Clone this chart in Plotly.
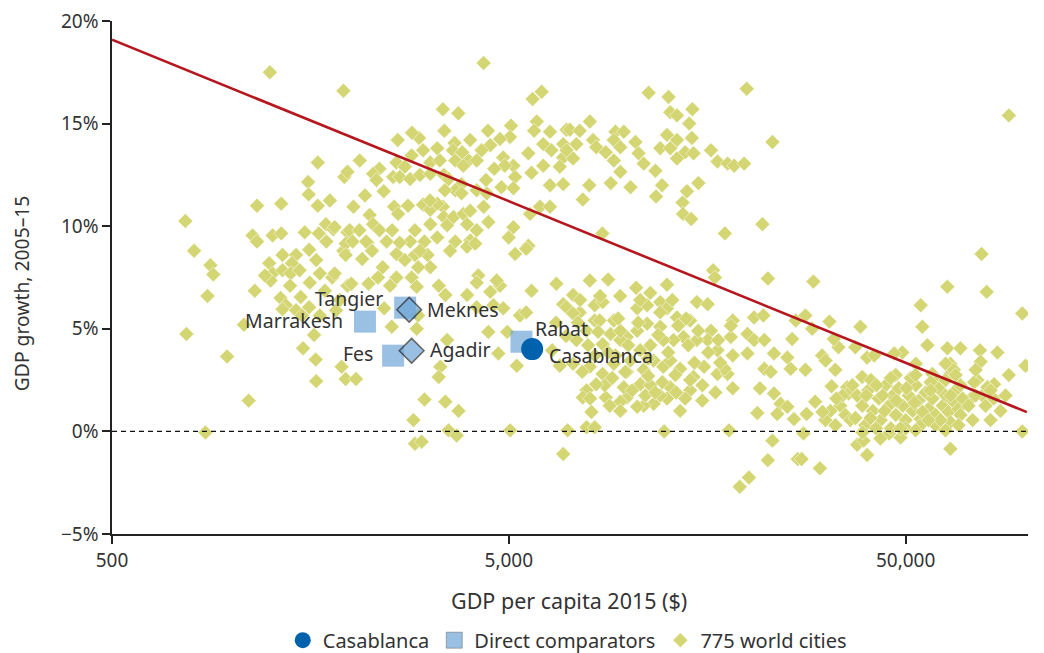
import math
import plotly.graph_objects as go

# ---------------- data ----------------
world_x = [
    1250, 1915, 1650, 1925, 1560, 1565, 1160, 1335, 765, 1130, 1160, 1270, 1335, 1530, 1730, 1660,
    1805, 1960, 1735, 805, 1570, 1915, 1635, 885, 1345, 1455, 1245, 1420, 900, 870, 770, 1075,
    975, 1105, 860, 1270, 1345, 1410, 1255, 1670, 1795, 1960, 1330, 1370, 1495, 1345, 1455, 1570,
    1835, 1615, 1515, 1630, 1895, 1635, 1940,
    4320, 6050, 5740, 3410, 3730, 3440, 5065, 5880, 5790, 6350, 6990, 2970, 3650, 5035, 4750, 4490,
    4270, 5600, 6105, 6400, 6855, 6855, 6105, 5705, 5135, 4840, 4885, 4595, 5185, 4790, 5135, 6350,
    6855, 3300, 3615, 3665, 3960, 3840, 4150, 2845, 3040, 3170, 2605, 2735, 2360, 2275, 1960, 2320,
    2555, 2655, 2820, 2985, 3170, 3430, 3525, 3800, 3665, 3800, 4150, 4400, 2420, 3040, 2570, 2630,
    2030, 2230, 2275, 1820, 1985, 2100, 2360, 2200, 2460, 1940, 2900, 3170, 3410, 3430, 3495, 3630,
    3840, 3925, 3170, 3300, 4320, 4150, 4440, 4000, 3665, 3300, 3065, 2820, 5135, 4995, 5600, 5655,
    5990, 6350,
    2020, 2185, 1940, 2135, 2605, 2735, 2900, 3120, 3170, 2955, 2405, 2340, 2605, 2845, 1820, 2005,
    2215, 2510, 2930, 3330, 3925, 4115, 4190, 4150, 3460, 3925, 4490, 4750, 4660, 5705, 6590, 5185,
    5530, 2425, 2955, 4150, 4575, 4840, 5335, 5530, 6855, 2535, 2930, 4440, 4955, 3495, 4705, 2060,
    3360, 3330, 5235, 6720, 3065, 3460, 3735, 2875, 3525, 3695, 2900, 3015, 5040, 6855, 7030,
    11255, 12635, 19880, 14505, 12760, 13265, 14245, 8000, 7125, 7545, 14465, 12520, 9285, 9745,
    13265, 7400, 8150, 9195, 10425, 12040, 12760, 13910, 14600, 16155, 6990, 8305, 8775, 9550,
    10615, 13265, 16780, 17795, 18490, 19590, 7260, 9195, 10935, 6720, 9550, 11705, 7975, 9035,
    10130, 12165, 15020, 7680, 11750, 14055, 13700, 13735, 14405, 21780, 17515, 8605, 23080,
    16360, 16535, 22480, 8000, 8900, 10465, 12520, 7260, 11360, 8230, 8620, 7545, 6990, 10530,
    11155, 12040, 12520, 14890, 15850, 20750, 21905, 13265, 14320, 18335, 9195, 8230, 7260, 25880,
    23290, 25170, 25650, 19970, 20750, 22025, 19970, 22025, 22855, 18335, 18135, 18135, 16155,
    15850, 16780, 14890, 13780, 13005, 12255, 12040, 11155, 10530, 9915, 9550, 9025, 8620, 7850,
    7400, 7260, 8000, 8620, 9195, 9915, 10935, 11585, 12255, 12760, 13510, 14600, 15520, 16780,
    17795, 17490, 18335, 15365, 14320, 12760, 12520, 11585, 10935, 10530, 9915, 9550, 8775, 9745,
    10725, 7850, 7680, 8075, 7850, 8230, 12320, 17940, 21145, 23290, 24195, 25170, 23735, 26150,
    21470, 23080, 22480, 20140, 19095, 26745, 8470, 9550, 10725, 11370, 10130, 9285, 8230, 8720,
    11370, 12040, 13135, 14320, 11040, 9550, 8980, 13510,
    77670, 63690, 80030, 98390, 29275, 54580, 55090, 56730, 63690, 68710, 76950, 85160, 100240,
    91000, 83520, 77260, 75820, 72950, 78080, 64820, 64820, 98390, 64820, 48540, 39980, 37740,
    39170, 45410, 30400, 27340, 27640, 28150, 29580, 32540, 38860, 33250, 27950, 30800, 31420,
    32130, 29070, 27950, 26420, 33860, 32950, 38450, 37330, 39980, 41680, 49050, 46800, 53040,
    47210, 58370, 60110, 35600, 35900,
    37750, 38890, 40250, 41345, 42790, 43285, 44565, 45350, 46410, 47250, 48040, 49190, 50020,
    50910, 52090, 53030, 53910, 54540, 56160, 57140, 58470, 59525, 60520, 61980, 63030, 64140,
    65640, 66820, 67930, 69580, 39545, 42090, 45895, 50020, 54540, 59525, 64880, 40890, 45895,
    51510, 57825, 63030, 68710, 34220, 35230, 32320, 31385, 33270, 36280, 30865, 37350,
    91000, 63030, 66160, 74390, 80340,
    7470, 7920, 8395, 8900, 9430, 9995, 10590, 11225, 11895, 12610, 13360, 14160, 15005,
    7655, 8300, 9110, 10230, 11225, 12185, 13205, 14675, 15905, 16855, 15370, 12035, 10715,
    9540, 8490, 12910, 13990, 7560, 6970, 6575, 6430, 8015, 9820, 11700, 13915, 16580, 17050,
    36720, 39810, 42200, 44220, 47400, 50220, 52660, 55160, 57760, 61200, 64880, 68730, 72015,
    75060, 79490, 83300, 86710, 40765, 43725, 48510, 52975, 57085, 63005, 67945, 73735, 81845,
    38925, 43190, 52975, 66830, 75060, 34660, 33450, 81845, 89280,
    2625, 2850, 3350, 3995, 4430, 3815, 3450, 3165, 2785, 2540, 2260, 2655, 2985, 3555, 3995,
    4380, 2105, 2170, 1770, 1650,
    1485, 1575, 1720, 1405, 1875, 1505, 1670, 1215, 1145,
]
world_y = [
    17.5, 16.6, 13.1, 12.4, 12.15, 11.55, 11.0, 11.1, 10.25, 9.55, 9.25, 9.55, 9.65, 9.7, 10.1, 9.65,
    9.85, 9.7, 9.25, 8.8, 8.85, 8.8, 8.35, 8.1, 8.6, 8.6, 8.2, 8.2, 7.65, 6.6, 4.75, 5.2,
    3.65, 1.5, -0.05, 7.7, 7.85, 7.7, 7.35, 7.7, 7.5, 7.1, 6.5, 6.15, 6.55, 5.95, 5.9, 6.05,
    5.9, 4.7, 4.05, 3.5, 3.15, 2.45, 2.55,
    17.95, 16.55, 16.2, 15.7, 15.5, 14.65, 14.9, 15.1, 14.65, 14.6, 14.7, 14.3, 14.05, 14.35, 14.25, 13.95,
    13.7, 13.55, 14.0, 13.7, 14.0, 13.35, 12.95, 12.6, 12.95, 13.35, 12.95, 12.8, 12.4, 11.9, 11.85, 12.0,
    12.05, 13.8, 13.7, 13.2, 13.2, 12.95, 13.2, 13.45, 13.7, 13.1, 13.1, 12.9, 12.8, 12.55, 12.65, 12.25,
    12.4, 12.4, 12.3, 12.5, 12.55, 12.5, 12.3, 12.05, 11.75, 11.6, 11.75, 11.6, 11.7, 11.05, 10.95, 10.6,
    10.95, 10.55, 10.1, 9.95, 9.8, 9.8, 9.8, 9.2, 9.25, 9.15, 9.8, 10.1, 10.95, 10.45, 10.05, 10.45,
    10.6, 10.1, 10.8, 11.1, 10.95, 9.8, 10.2, 9.3, 9.25, 9.45, 9.25, 9.25, 9.95, 9.45, 9.05, 10.6,
    10.95, 10.95,
    9.25, 9.25, 8.6, 8.4, 8.65, 8.35, 8.6, 8.6, 8.0, 8.0, 8.0, 7.5, 7.5, 7.5, 7.7, 7.2,
    7.2, 7.1, 7.05, 7.1, 9.0, 9.15, 7.6, 7.25, 6.65, 6.65, 6.8, 7.1, 7.35, 6.85, 7.2, 8.65,
    8.9, 6.0, 5.65, 6.05, 6.15, 6.0, 5.65, 5.8, 6.2, 5.1, 5.0, 4.85, 4.85, 4.45, 3.8, 2.55,
    3.15, 2.65, 3.2, 3.2, 1.55, 1.45, 1.0, 0.55, 0.05, -0.2, -0.6, -0.5, 0.05, -1.1, 0.05,
    16.5, 16.3, 16.7, 15.7, 15.55, 15.4, 15.0, 15.1, 14.7, 14.65, 14.3, 14.45, 14.6, 14.6,
    14.2, 14.0, 14.2, 14.2, 14.1, 13.8, 13.8, 13.6, 13.55, 13.7, 13.7, 13.85, 13.6, 13.85,
    13.55, 13.3, 13.15, 13.05, 12.95, 13.05, 13.3, 13.2, 13.05, 12.9, 12.65, 12.7, 12.0, 12.1,
    11.9, 12.0, 12.1, 11.3, 11.45, 11.7, 11.15, 10.6, 10.35, 10.1, 9.65, 9.65, 14.1,
    7.85, 7.5, 7.45, 7.35, 7.4, 7.0, 7.15, 6.65, 6.75, 6.15, 6.3, 5.8, 6.05, 6.0,
    6.15, 6.3, 6.0, 6.3, 6.2, 5.55, 5.65, 5.55, 5.4, 5.4, 5.4, 5.4, 5.75, 4.5,
    3.8, 3.6, 3.05, 4.75, 4.45, 4.45, 3.8, 3.05, 2.9, 3.7, 4.6, 5.15, 4.9,
    4.45, 3.95, 4.45, 4.6, 4.45, 4.45, 5.1, 5.25, 4.9, 4.6, 4.45, 4.75, 4.25, 4.9,
    4.45, 3.3, 3.15, 2.8, 3.3, 2.9, 3.0, 3.45, 3.15, 3.45, 3.05, 2.65, 3.15, 2.8,
    2.8, 3.05, 2.1, 1.5, 2.0, 2.15, 1.6, 1.35, 1.25, 1.2, 1.65, 1.45, 1.65, 2.15,
    2.3, 2.0, 1.65, 0.95, 0.2, 0.2, 0.0, 0.05, 0.9, 1.85, 1.35, 1.2, 0.85, 0.6,
    2.1, -0.45, -1.4, -2.25, -2.7, -1.35, 5.4, 4.9, 3.95, 4.2, 3.45, 3.7, 3.7, 2.25,
    2.25, 1.75, 2.75, 2.5, 1.75, 1.0, 1.25, 1.0,
    8.65, 7.05, 6.8, 5.75, 7.3, 6.15, 5.1, 4.2, 4.05, 4.05, 3.95, 3.85, 3.2,
    2.75, 2.3, 3.4, 2.5, 1.6, 1.75, 3.3, 2.8, 0.0, -0.85, -0.3, -1.15, -0.65,
    -0.45, -0.1, -1.8, -1.35, -0.1, 0.85, 1.45, 2.2, 2.65, 3.0, 3.0, 3.7, 3.45,
    5.35, 5.0, 5.65, 5.4, 4.1, 4.5, 5.1, 4.1, 3.6, 3.7, 3.85, 3.8, 3.3,
    2.75, 2.8, 2.5, 2.15, 1.85,
    1.75, 1.25, 2.0, 1.0, 1.6, 0.55, 2.25, 1.25, 1.75, 0.8, 2.1, 1.25, 0.55,
    1.75, 1.0, 2.25, 1.5, 0.6, 1.9, 1.1, 1.6, 0.8, 2.1, 1.25, 1.75, 0.95,
    1.5, 2.0, 1.1, 1.6, 0.3, 0.15, 0.15, 0.15, 0.3, 0.3, 0.45, 2.5, 2.6,
    2.6, 2.4, 2.5, 2.25, 1.25, 0.8, 1.0, 0.55, 0.3, 0.55, 0.95, 0.65,
    15.4, 3.3, 3.0, 2.4, 2.15,
    5.3, 4.2, 4.85, 3.85, 5.5, 4.2, 5.3, 3.55, 4.7, 3.85, 5.15, 4.2, 4.9,
    2.9, 2.3, 2.6, 2.0, 2.7, 2.4, 1.9, 3.35, 3.85, 4.45, 2.25, 5.8, 6.4,
    6.6, 6.6, 6.4, 5.5, 6.4, 4.65, 5.3, 3.95, 1.6, 2.9, 1.9, 1.6, 1.9, 3.35,
    2.25, 1.75, 2.25, 1.0, 1.5, 2.1, 1.4, 0.95, 2.0, 0.55, 1.75, 0.8, 1.25,
    1.75, 1.25, 1.6, 1.0, 0.65, 1.75, 0.15, 0.05, 0.55, 0.05, 0.3, 0.55, 0.55,
    -0.05, -0.35, 2.75, 2.75, 3.0, 1.75, 1.6, 2.0, 1.75,
    14.2, 14.55, 13.2, 14.2, 14.65, 13.6, 11.75, 11.25, 11.0, 9.8, 8.8, 9.2, 8.8, 8.8, 10.75,
    12.25, 13.2, 11.5, 11.25, 11.0,
    7.85, 7.25, 6.85, 7.1, 6.4, 5.65, 5.65, 7.6, 6.85,
]

comp_names = ["Marrakesh", "Tangier", "Fes", "Rabat", "Meknes", "Agadir"]
comp_x = [2170, 2740, 2555, 5380, 2805, 2845]
comp_y = [5.35, 6.03, 3.69, 4.37, 5.93, 3.93]

casa_names = ["Casablanca"]
casa_x = [5725]
casa_y = [4.01]

trend_x = [500, 101000]
trend_y = [19.09, 0.94]

x_ticks = [500, 5000, 50000]
x_tick_text = ["500", "5,000", "50,000"]
y_ticks = [-5, 0, 5, 10, 15, 20]
y_tick_text = ["\u22125%", "0%", "5%", "10%", "15%", "20%"]
x_range = [500, 101700]
y_range = [-5, 20]

# ---------------- style ----------------
FONT = "Noto Sans"
TXT = "#333333"
FS_TICK = 19
FS_LABEL = 19.5
FS_XTITLE = 21.5
FS_YTITLE = 19.3
FS_LEG = 20
C_WORLD = "#D4D674"
C_COMP = "#6FA6D8"
C_CASA = "#0062AD"
C_TREND = "#B5171E"
AX = "#222222"

comp_symbols = ["square", "square", "square", "square", "diamond", "diamond"]
comp_sizes = [22, 22, 22, 22, 19, 19]
comp_lw = [0, 0, 0, 0, 1.5, 1.5]

# label placement: name -> (xanchor, xshift, yshift)
label_pos = {
    "Marrakesh": ("right", -20, 1),
    "Tangier": ("right", -20, 9),
    "Fes": ("right", -18, 2),
    "Rabat": ("left", 12, 13),
    "Meknes": ("left", 16, 0),
    "Agadir": ("left", 16, 1),
    "Casablanca": ("left", 15, -6),
}

fig = go.Figure()

fig.add_trace(go.Scatter(
    x=world_x, y=world_y, mode="markers", name="775 world cities",
    marker=dict(symbol="diamond", size=11.5, color=C_WORLD,
                line=dict(width=0.5, color="white")),
    legendrank=3, hoverinfo="skip",
))
fig.add_trace(go.Scatter(
    x=trend_x, y=trend_y, mode="lines", showlegend=False,
    line=dict(color=C_TREND, width=2.6), hoverinfo="skip",
))
fig.add_trace(go.Scatter(
    x=comp_x, y=comp_y, mode="markers", name="Direct comparators",
    marker=dict(symbol=comp_symbols, size=comp_sizes, color=C_COMP,
                line=dict(width=comp_lw, color=AX)),
    legendrank=2, text=comp_names, hoverinfo="text",
))
fig.add_trace(go.Scatter(
    x=casa_x, y=casa_y, mode="markers", name="Casablanca",
    marker=dict(symbol="circle", size=22, color=C_CASA),
    legendrank=1, text=casa_names, hoverinfo="text",
))

annotations = []
for names, xs, ys in ((comp_names, comp_x, comp_y), (casa_names, casa_x, casa_y)):
    for n, xv, yv in zip(names, xs, ys):
        xa, xs_, ys_ = label_pos[n]
        annotations.append(dict(
            x=math.log10(xv), y=yv, xref="x", yref="y", text=n, showarrow=False,
            xanchor=xa, yanchor="middle", xshift=xs_, yshift=ys_,
            font=dict(family=FONT, size=FS_LABEL, color=TXT),
        ))

annotations.append(dict(
    x=0.499, y=-0.129, xref="paper", yref="paper", text="GDP per capita 2015 ($)",
    showarrow=False, xanchor="center", yanchor="middle",
    font=dict(family=FONT, size=FS_XTITLE, color=TXT),
))
annotations.append(dict(
    x=-0.0985, y=0.469, xref="paper", yref="paper", text="GDP growth, 2005–15",
    showarrow=False, xanchor="center", yanchor="middle", textangle=-90, borderpad=0,
    font=dict(family=FONT, size=FS_YTITLE, color=TXT),
))

fig.update_layout(
    width=1044, height=653,
    margin=dict(l=104.3, r=24, t=12.7, b=127.3, autoexpand=False),
    paper_bgcolor="white", plot_bgcolor="white",
    font=dict(family=FONT, size=FS_TICK, color=TXT),
    showlegend=True,
    legend=dict(orientation="h", x=0.497, xanchor="center", y=-0.207, yanchor="middle",
                font=dict(family=FONT, size=FS_LEG, color=TXT), bgcolor="rgba(0,0,0,0)",
                itemwidth=30),
    annotations=annotations,
    shapes=[dict(type="line", xref="paper", yref="y", x0=0, x1=1, y0=0, y1=0,
                 line=dict(color="#111111", width=1.4, dash="5px,4px"), layer="above")],
    xaxis=dict(type="log", range=[math.log10(x_range[0]), math.log10(x_range[1])],
               tickvals=x_ticks, ticktext=x_tick_text, showgrid=False, zeroline=False,
               showline=True, linecolor=AX, linewidth=1.5, automargin=False,
               ticklabeloverflow="allow",
               ticks="outside", ticklen=8, tickwidth=1.5, tickcolor=AX,
               tickfont=dict(family=FONT, size=FS_TICK, color=TXT)),
    yaxis=dict(range=y_range, tickvals=y_ticks, ticktext=y_tick_text, showgrid=False,
               zeroline=False, showline=True, linecolor=AX, linewidth=1.5, automargin=False,
               ticklabeloverflow="allow",
               ticks="outside", ticklen=8, tickwidth=1.5, tickcolor=AX,
               tickfont=dict(family=FONT, size=FS_TICK, color=TXT)),
)

fig.write_html("out.html")
